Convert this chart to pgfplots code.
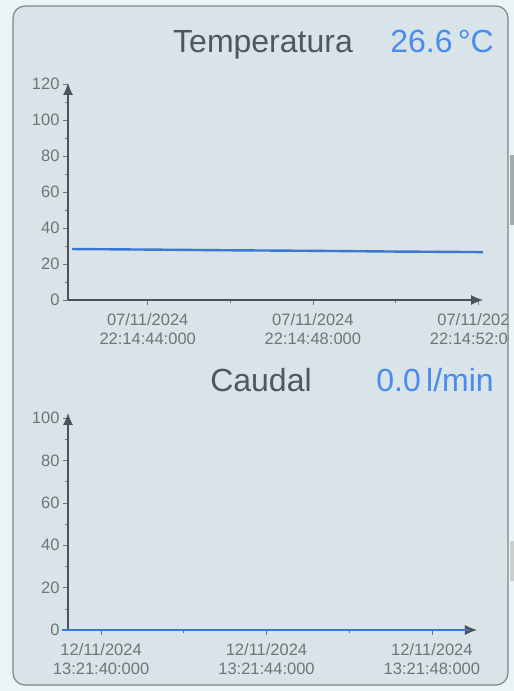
\documentclass[border=0pt]{standalone}
\usepackage{fontspec}
\setmainfont{Liberation Sans}
\usepackage{pgfplots}
\pgfplotsset{compat=1.18}
\usetikzlibrary{arrows.meta}
\definecolor{outer}{HTML}{EAF3F5}
\definecolor{panel}{HTML}{D8E4E7}
\definecolor{frame}{HTML}{7D878A}
\definecolor{axisgray}{HTML}{4A5357}
\definecolor{ticktext}{HTML}{6D7578}
\definecolor{titlegray}{HTML}{4F585C}
\definecolor{valblue}{HTML}{4A8BEE}
\definecolor{lineblue}{HTML}{3B78D4}

\pgfplotsset{
  screen/.style={
    scale only axis, anchor=south west,
    axis lines=left,
    axis line style={axisgray, line width=1.1pt, -{Latex[length=12pt,width=10pt]}},
    tick style={ticktext, line width=0.6pt},
    tick align=outside,
    major tick length=5pt, minor tick length=3pt,
    ticklabel style={font=\fontsize{16.5}{19}\selectfont, text=ticktext},
    xticklabel style={align=center, yshift=-5pt},
    /pgf/number format/assume math mode=true,
    clip=false,
    minor y tick num=1,
    minor x tick num=1,
  }
}

\begin{document}
\begin{tikzpicture}
\useasboundingbox (0,0) rectangle (514pt,691pt);
\fill[outer] (0,0) rectangle (514pt,691pt);
\fill[frame!70] (509.5pt,466pt) rectangle (514pt,536pt);
\fill[frame!40] (509.5pt,110pt) rectangle (514pt,150pt);
\fill[panel, rounded corners=12pt] (13pt,6pt) rectangle (508pt,685pt);

\begin{scope}
\clip (0,0) rectangle (508pt,691pt);
% Temperatura
\begin{axis}[screen, at={(68pt,391pt)}, width=415pt, height=217pt,
  xmin=42.07, xmax=52.12, ymin=0, ymax=120.5,
  xtick={44,48,52},
  xticklabels={{07/11/2024\\22:14:44:000},{07/11/2024\\22:14:48:000},{07/11/2024\\22:14:52:000}},
  ytick={0,20,...,120}]
\addplot[lineblue, line width=2.4pt] coordinates {
  (42.17,28.3) (44,28.0) (46,27.6) (48,27.3) (50,26.9) (52.12,26.6)};
\end{axis}

% Caudal
\begin{axis}[screen, at={(68pt,61pt)}, width=409pt, height=217pt,
  xmin=39.2, xmax=49.09, ymin=0, ymax=102.4,
  xtick={40,44,48},
  xticklabels={{12/11/2024\\13:21:40:000},{12/11/2024\\13:21:44:000},{12/11/2024\\13:21:48:000}},
  ytick={0,20,...,100}]
\addplot[lineblue, line width=2.4pt] coordinates {
  (39.06,0) (40,0) (42,0) (44,0) (46,0) (48,0) (48.9,0)};
\end{axis}
\end{scope}

\draw[frame, line width=1.2pt, rounded corners=12pt] (13pt,6pt) rectangle (508pt,685pt);

\node[anchor=base, text=titlegray, font=\fontsize{32}{38}\selectfont] at (263pt,638pt) {Temperatura};
\node[anchor=base east, text=valblue, font=\fontsize{32}{38}\selectfont, inner sep=0pt] at (494pt,638pt) {26.6\,°C};
\node[anchor=base, text=titlegray, font=\fontsize{32}{38}\selectfont] at (261pt,299pt) {Caudal};
\node[anchor=base east, text=valblue, font=\fontsize{32}{38}\selectfont, inner sep=0pt] at (494pt,299pt) {0.0\,l/min};
\end{tikzpicture}
\end{document}
